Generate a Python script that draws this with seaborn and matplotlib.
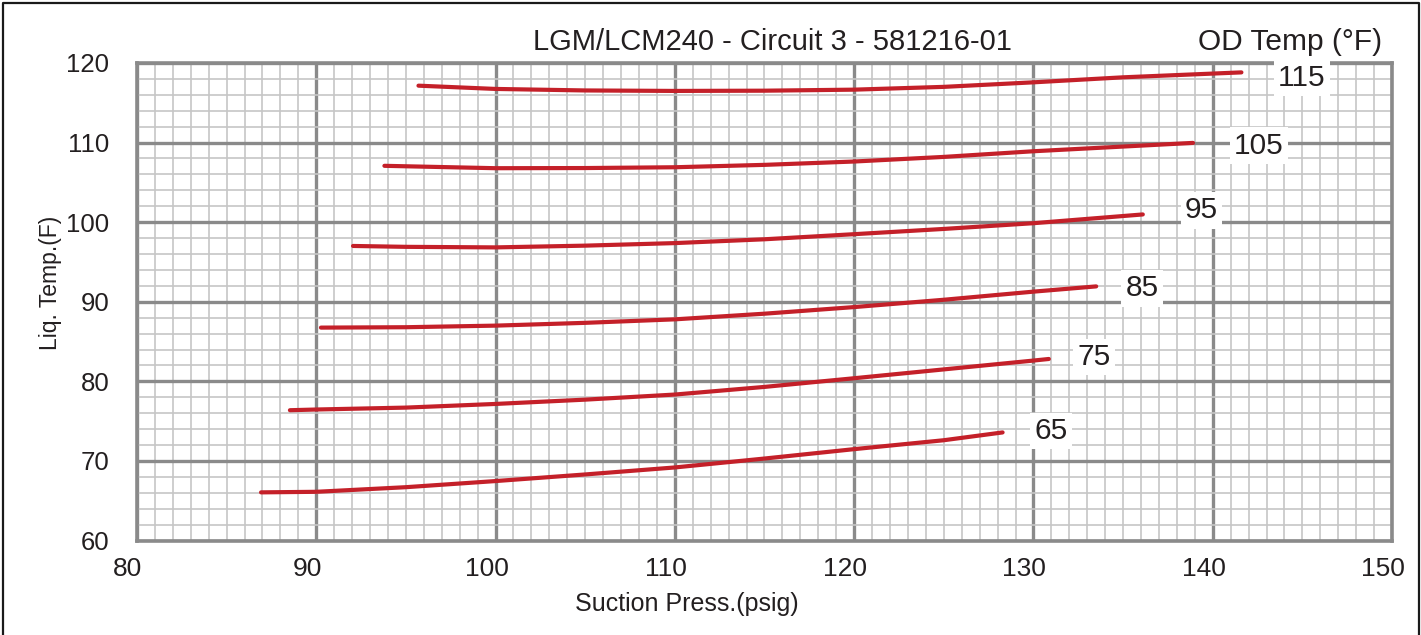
import numpy as np
import pandas as pd
import matplotlib
matplotlib.use("Agg")
import matplotlib.pyplot as plt
import matplotlib.transforms as mtransforms
from matplotlib.ticker import MultipleLocator
import seaborn as sns

# --- DATA ---
od_temps = [115, 105, 95, 85, 75, 65]

x_115 = [95.7, 100, 105, 110, 115, 120, 125, 130, 135, 141.6]
y_115 = [117.15, 116.74, 116.55, 116.49, 116.52, 116.65, 117.0, 117.57, 118.2, 118.82]

x_105 = [93.8, 100, 105, 110, 115, 120, 125, 130, 135, 138.9]
y_105 = [107.08, 106.78, 106.8, 106.9, 107.2, 107.62, 108.2, 108.91, 109.5, 109.96]

x_95 = [92.05, 95, 100, 105, 110, 115, 120, 125, 130, 136.1]
y_95 = [97.01, 96.9, 96.83, 97.05, 97.37, 97.85, 98.49, 99.15, 99.87, 100.97]

x_85 = [90.26, 95, 100, 105, 110, 115, 120, 125, 130, 133.5]
y_85 = [86.75, 86.8, 87.0, 87.35, 87.79, 88.5, 89.33, 90.25, 91.27, 91.93]

x_75 = [88.53, 90, 95, 100, 105, 110, 115, 120, 125, 130, 130.86]
y_75 = [76.37, 76.46, 76.7, 77.16, 77.7, 78.34, 79.3, 80.39, 81.5, 82.61, 82.81]

x_65 = [86.92, 90, 95, 100, 105, 110, 115, 120, 125, 128.28]
y_65 = [66.05, 66.12, 66.7, 67.47, 68.3, 69.18, 70.3, 71.48, 72.6, 73.58]

# where the OD temp labels sit
label_x = [144.97, 142.58, 139.38, 136.05, 133.37, 130.98]
label_y = [118.16, 109.62, 101.47, 91.68, 83.06, 73.74]

x_ticks = [80, 90, 100, 110, 120, 130, 140, 150]
y_ticks = [60, 70, 80, 90, 100, 110, 120]

# --- BUILD LONG TABLE ---
curves = {115: (x_115, y_115), 105: (x_105, y_105), 95: (x_95, y_95),
          85: (x_85, y_85), 75: (x_75, y_75), 65: (x_65, y_65)}
rows = []
for t in od_temps:
    xs, ys = curves[t]
    for xv, yv in zip(xs, ys):
        rows.append({"od": t, "press": xv, "liq": yv})
df = pd.DataFrame(rows)

# --- STYLE ---
sns.set_style("white")
plt.rcParams['font.family'] = ['Liberation Sans', 'DejaVu Sans']
text_col = "#231f20"
red = "#c42029"
major_grey = "#8a8a8a"
minor_grey = "#c6c6c6"

fig = plt.figure(figsize=(14.21, 6.35), dpi=100)
ax = fig.add_axes([0.0964, 0.1488, 0.8832, 0.752])

sns.lineplot(data=df, x="press", y="liq", hue="od", units="od", estimator=None,
             sort=False, palette={t: red for t in od_temps}, linewidth=3,
             legend=False, ax=ax, zorder=3)

ax.set_xlim(80, 150)
ax.set_ylim(60, 120)
ax.xaxis.set_major_locator(MultipleLocator(10))
ax.xaxis.set_minor_locator(MultipleLocator(1))
ax.yaxis.set_major_locator(MultipleLocator(10))
ax.yaxis.set_minor_locator(MultipleLocator(2))
ax.set_xticks(x_ticks)
ax.set_yticks(y_ticks)

ax.set_axisbelow(True)
ax.grid(which="minor", color=minor_grey, linewidth=1.2)
ax.grid(which="major", color=major_grey, linewidth=2.4)
for sp in ax.spines.values():
    sp.set_color(major_grey)
    sp.set_linewidth(2.6)

ax.tick_params(which="both", length=0)
ax.tick_params(axis="x", labelsize=19, pad=12, labelcolor=text_col)
ax.tick_params(axis="y", labelsize=18.5, pad=20, labelcolor=text_col)

# x tick labels sit a bit left of the gridlines in the original
shift = mtransforms.ScaledTranslation(-9 / 100, 0, fig.dpi_scale_trans)
for lab in ax.get_xticklabels():
    lab.set_transform(lab.get_transform() + shift)

ax.set_xlabel("Suction Press.(psig)", fontsize=18, color=text_col)
ax.xaxis.set_label_coords(0.438, -0.133)
ax.xaxis.label.set_verticalalignment("center")
ax.set_ylabel("Liq. Temp.(F)", fontsize=16.5, color=text_col)
ax.yaxis.set_label_coords(-0.0693, 0.54)
ax.yaxis.label.set_verticalalignment("center")

# curve labels
for t, lx, ly in zip(od_temps, label_x, label_y):
    ax.text(lx, ly, str(t), fontsize=21.5, color=text_col, ha="center", va="center",
            bbox=dict(facecolor="white", edgecolor="none", pad=3), zorder=4)

ax.text(0.506, 1.044, "LGM/LCM240 - Circuit 3 - 581216-01", transform=ax.transAxes,
        fontsize=21, color=text_col, ha="center", va="center")
ax.text(0.919, 1.044, "OD Temp (°F)", transform=ax.transAxes,
        fontsize=21.5, color=text_col, ha="center", va="center")

# outer frame (left, top, right)
fig.add_artist(plt.Line2D([0.0021, 0.0021, 0.9986, 0.9986], [0, 0.9953, 0.9953, 0],
                          transform=fig.transFigure, color="#1a1a1a", linewidth=1.6))

fig.savefig("out.png", dpi=100)
